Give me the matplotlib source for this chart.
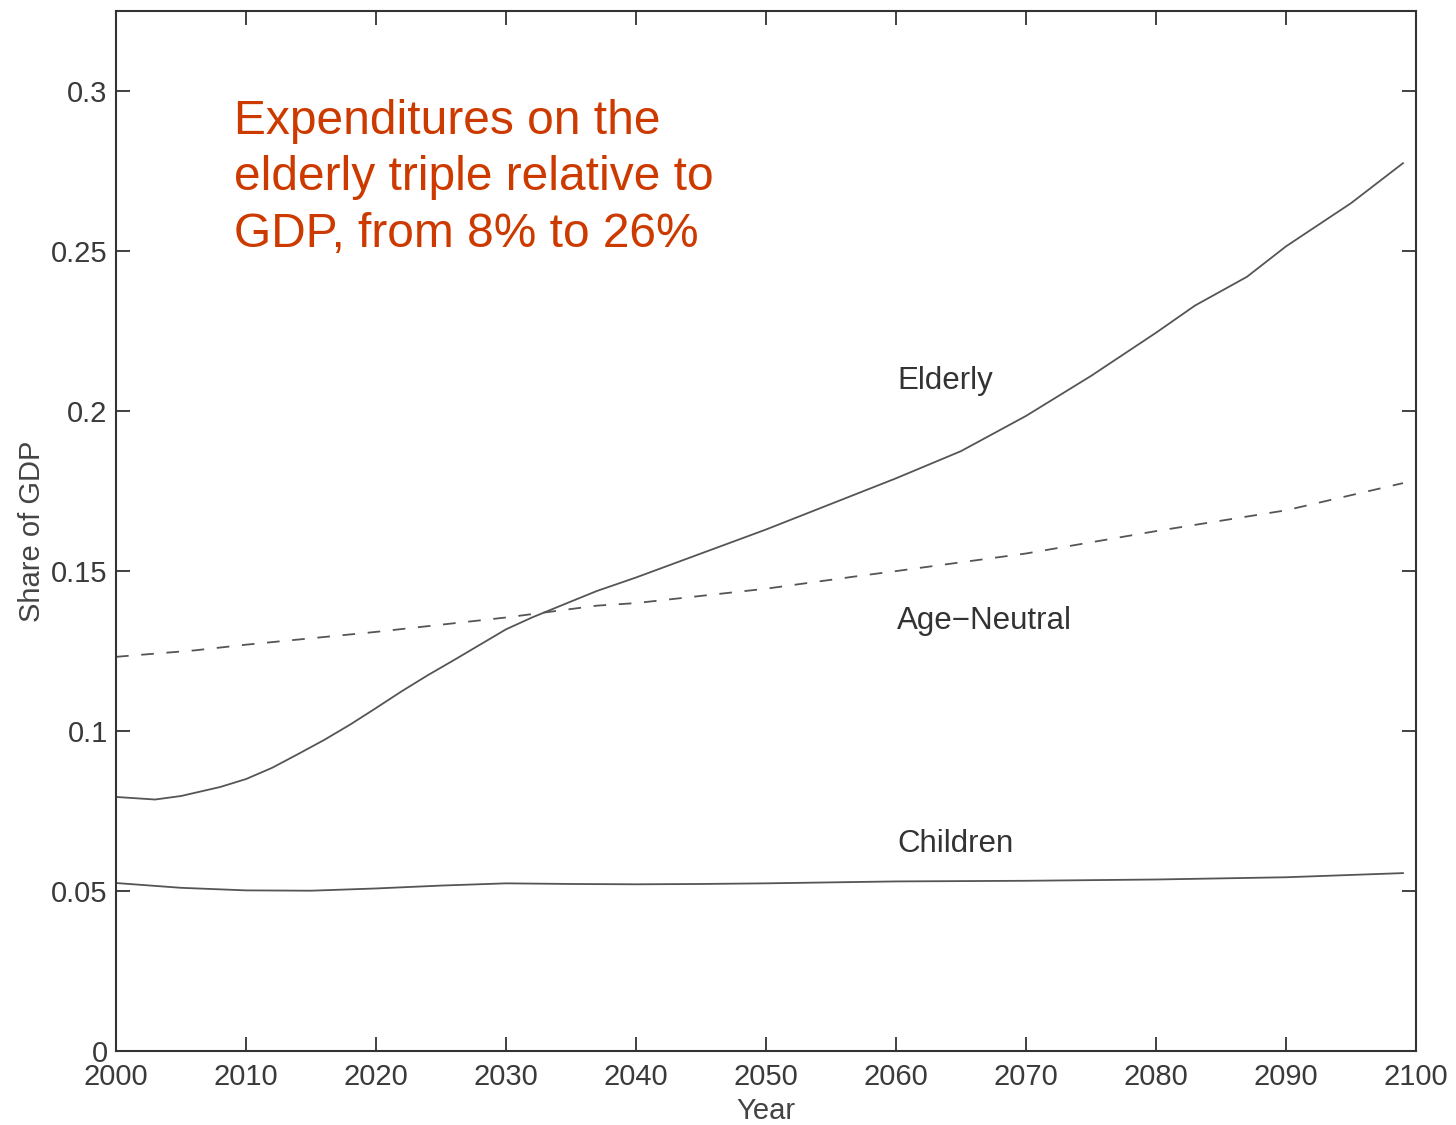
import matplotlib.pyplot as plt

plt.rcParams['font.family'] = ['Liberation Sans', 'DejaVu Sans']

# valeurs (part du PIB)
years_eld = [2000, 2003, 2005, 2008, 2010, 2012, 2014, 2016, 2018, 2020, 2022, 2024, 2026, 2028,
             2030, 2032, 2035, 2037, 2040, 2045, 2050, 2055, 2060, 2065, 2070, 2075, 2080,
             2083, 2087, 2090, 2095, 2099]
elderly = [0.0794, 0.0786, 0.0797, 0.0825, 0.0850, 0.0885, 0.0928, 0.0972, 0.1020, 0.1072,
           0.1125, 0.1175, 0.1222, 0.1270, 0.1318, 0.1355, 0.1405, 0.1438, 0.148, 0.1555,
           0.163, 0.171, 0.179, 0.1875, 0.1985, 0.211, 0.2245, 0.233, 0.242, 0.2515, 0.265,
           0.2775]

years_neu = [2000, 2006, 2010, 2020, 2030, 2037, 2040, 2050, 2057, 2060, 2070, 2075, 2080,
             2090, 2099]
age_neutral = [0.1232, 0.1252, 0.127, 0.131, 0.1355, 0.1392, 0.140, 0.1445, 0.1484, 0.150,
               0.1555, 0.159, 0.1625, 0.169, 0.1775]

years_chi = [2000, 2005, 2010, 2015, 2020, 2025, 2030, 2035, 2040, 2045, 2050, 2055, 2060,
             2070, 2080, 2090, 2099]
children = [0.0525, 0.0510, 0.0502, 0.0501, 0.0508, 0.0517, 0.0524, 0.0522, 0.0521, 0.0522,
            0.0524, 0.0527, 0.0530, 0.0532, 0.0536, 0.0543, 0.0556]

xticks = list(range(2000, 2101, 10))
yticks = [0, 0.05, 0.1, 0.15, 0.2, 0.25, 0.3]
ytick_labels = ['0', '0.05', '0.1', '0.15', '0.2', '0.25', '0.3']

fig = plt.figure(figsize=(14.56, 11.25), dpi=100)
ax = fig.add_axes([0.0797, 0.0658, 0.8928, 0.9242])

ax.plot(years_eld, elderly, color='#555555', lw=1.3)
ax.plot(years_neu, age_neutral, color='#555555', lw=1.3, dashes=(7, 7))
ax.plot(years_chi, children, color='#555555', lw=1.3)

ax.set_xlim(2000, 2100)
ax.set_ylim(0, 0.325)
ax.set_xticks(xticks)
ax.set_yticks(yticks)
ax.set_yticklabels(ytick_labels)
ax.tick_params(direction='in', length=10, width=1.3, top=True, right=True,
               labelsize=21, labelcolor='#3a3a3a', color='#333333')
ax.tick_params(axis='x', pad=9)
ax.tick_params(axis='y', pad=6)
for s in ax.spines.values():
    s.set_linewidth(1.5)
    s.set_color('#333333')

ax.set_xlabel('Year', fontsize=21, color='#444444', labelpad=4)
ax.set_ylabel('Share of GDP', fontsize=21, color='#444444', labelpad=4)

ax.text(2060.1, 0.2095, 'Elderly', fontsize=22.5, color='#333333', va='center')
ax.text(2060.1, 0.1345, 'Age\u2212Neutral', fontsize=22.5, color='#333333', va='center')
ax.text(2060.1, 0.0648, 'Children', fontsize=22.5, color='#333333', va='center')

ax.text(2009.1, 0.2975, 'Expenditures on the\nelderly triple relative to\nGDP, from 8% to 26%',
        fontsize=34.5, color='#cc3a00', va='top', ha='left', linespacing=1.32)

plt.savefig('out.png')
